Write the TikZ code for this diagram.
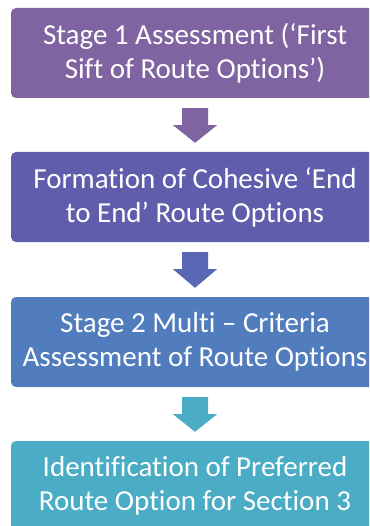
\documentclass[tikz,border=0pt]{standalone}
\usepackage{fontspec}
\setmainfont[Ligatures=NoCommon]{Carlito}
\usetikzlibrary{calc}
\definecolor{cA}{HTML}{8064A2}
\definecolor{cB}{HTML}{605EAC}
\definecolor{cC}{HTML}{517DBE}
\definecolor{cD}{HTML}{4BACC6}
\definecolor{aB}{HTML}{5A67B5}
\tikzset{
  stagebox/.style={rectangle, rounded corners=5pt, minimum width=368pt, minimum height=90pt,
    inner sep=0pt, text=white, align=center, font=\fontsize{29}{34}\selectfont},
}
\newcommand\blockarr[3]{%
  \fill[#3] ($(#1.south)+(-13,10)$) -- ($(#1.south)+(13,10)$) -- ($(#1.south)+(13,27)$)
    -- ($(#1.south)+(22,27)$) -- ($(#2.north)+(0,-9)$) -- ($(#1.south)+(-22,27)$)
    -- ($(#1.south)+(-13,27)$) -- cycle;}
\begin{document}
\begin{tikzpicture}[x=1pt,y=-1pt]
\useasboundingbox (0,0) rectangle (369,526);
\clip (0,0) rectangle (369,526);
\node[stagebox, fill=cA] (b1) at (195,53) {Stage 1 Assessment (‘First\\Sift of Route Options’)};
\node[stagebox, fill=cB] (b2) at (195,197) {Formation of Cohesive ‘End\\to End’ Route Options};
\node[stagebox, fill=cC] (b3) at (195,342) {Stage 2 Multi – Criteria\\Assessment of Route Options};
\node[stagebox, fill=cD] (b4) at (195,486) {Identification of Preferred\\Route Option for Section 3};
\blockarr{b1}{b2}{cA}
\blockarr{b2}{b3}{aB}
\blockarr{b3}{b4}{cD}
\end{tikzpicture}
\end{document}
